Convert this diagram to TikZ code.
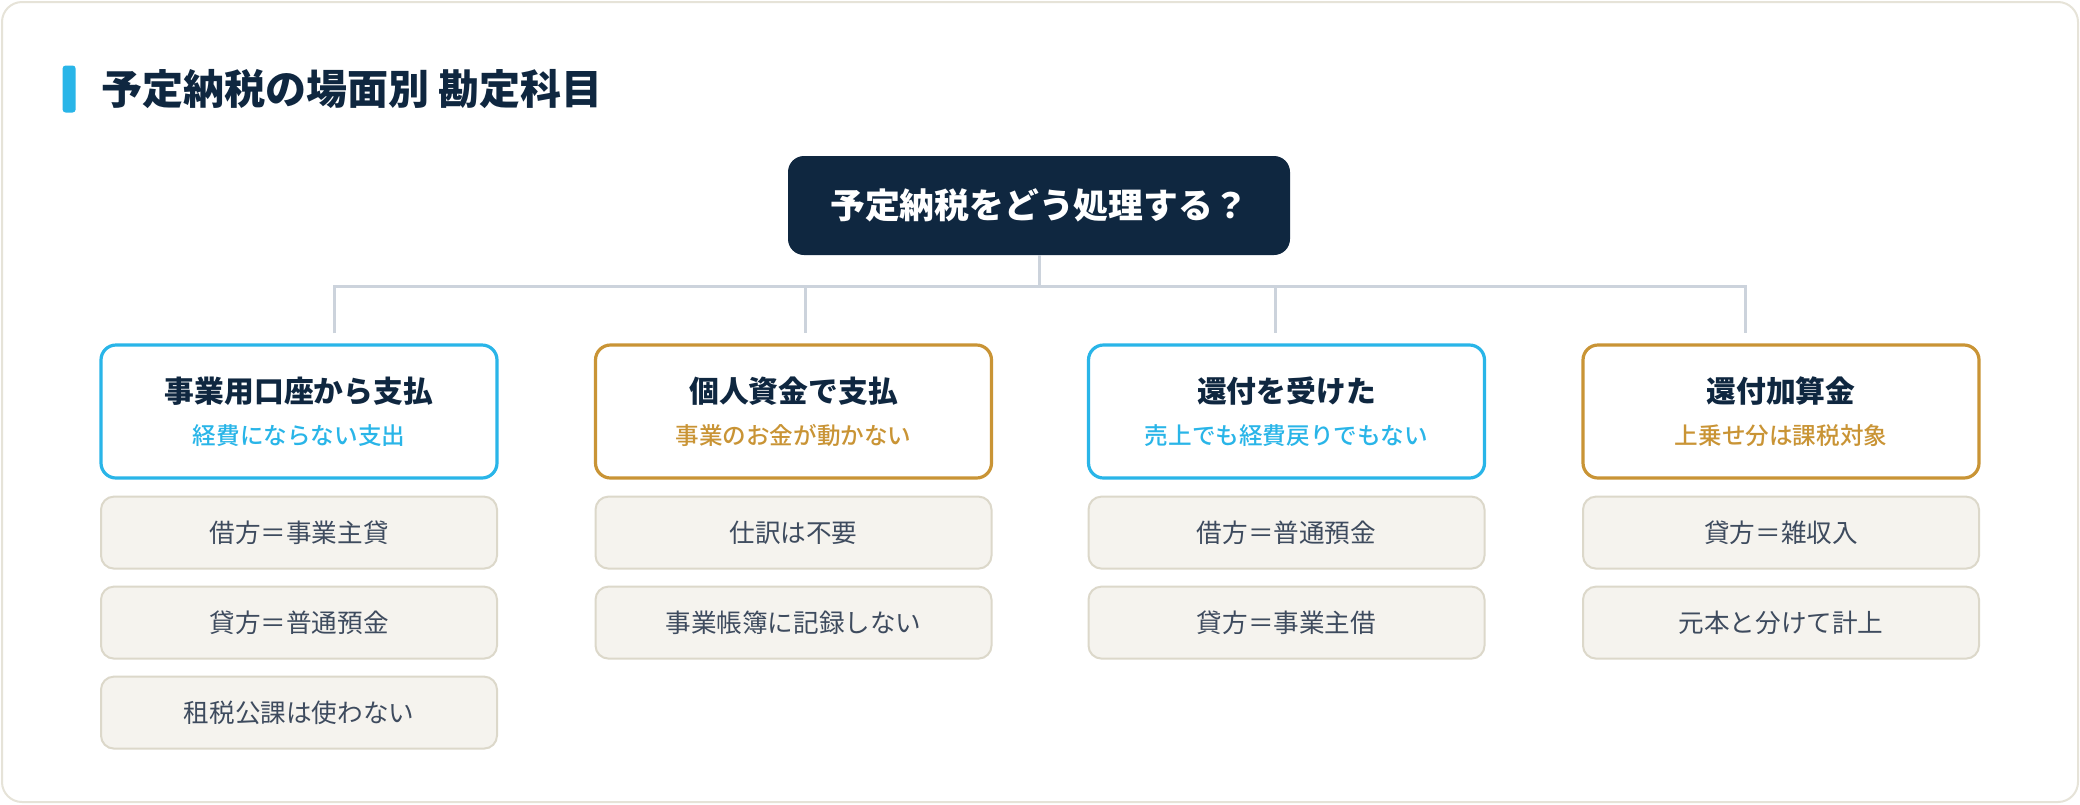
\documentclass[tikz,border=0pt]{standalone}
\usepackage{fontspec}
\setmainfont{Noto Sans CJK JP}
\newfontfamily\medfont{Noto Sans CJK JP}[UprightFont={* Medium}]
\newfontfamily\heavyfont{Noto Sans CJK JP}[UprightFont={* Black}]
\usepackage{xcolor}
\usepackage{tikz}
\usetikzlibrary{positioning}
\definecolor{cNavy}{HTML}{0F2740}
\definecolor{cCyan}{HTML}{29B5E8}
\definecolor{cGold}{HTML}{C99435}
\definecolor{cItemF}{HTML}{F5F3EE}
\definecolor{cItemL}{HTML}{DCD8CA}
\definecolor{cItemT}{HTML}{3E4B5E}
\definecolor{cLink}{HTML}{CCD3DC}
\definecolor{cFrame}{HTML}{E6E3D8}
\tikzset{
  rootbox/.style={fill=cNavy,text=white,rounded corners=8pt,inner sep=0pt,
      minimum width=251pt,minimum height=49.5pt,
      font=\fontsize{17.4}{20}\selectfont\bfseries},
  catbox/.style={draw,fill=white,rounded corners=7.5pt,line width=1.6pt,
      minimum width=198pt,minimum height=66.5pt,inner sep=0pt,align=center,
      text=cNavy,font=\fontsize{11.8}{21}\selectfont},
  catcyan/.style={catbox,draw=cCyan},
  catgold/.style={catbox,draw=cGold},
  itembox/.style={draw=cItemL,fill=cItemF,rounded corners=6.5pt,line width=1pt,
      minimum width=198pt,minimum height=36pt,inner sep=0pt,
      text=cItemT,font=\fontsize{12.8}{15}\selectfont},
  link/.style={draw=cLink,line width=1.5pt},
}
\newcommand{\cathead}[3]{{\fontsize{14.9}{21}\selectfont\bfseries #1}\\{\medfont\color{#3}#2}}

\begin{document}
\begin{tikzpicture}[x=0.5pt,y=-0.5pt,node distance=8pt]
  \useasboundingbox (0,0) rectangle (2080,804);
  \draw[cFrame,fill=white,line width=1pt,rounded corners=10pt] (2,2) rectangle (2078,802);

  % heading
  \node[anchor=west,inner sep=0pt,text=cNavy,
    font=\fontsize{20.5}{24}\selectfont\heavyfont] (title) at (101,89)
    {予定納税の場面別 勘定科目};
  \node[fill=cCyan,rounded corners=1.5pt,inner sep=0pt,minimum width=6.5pt,
    minimum height=23.5pt,left=12.5pt of title] (bar) {};

  \node[rootbox] (root) at (1039,205.5) {予定納税をどう処理する？};

  % the four cases
  \node[catcyan] (cat1) at (299,411.5)
    {\cathead{事業用口座から支払}{経費にならない支出}{cCyan}};
  \node[catgold] (cat2) at (793.5,411.5)
    {\cathead{個人資金で支払}{事業のお金が動かない}{cGold}};
  \node[catcyan] (cat3) at (1286.5,411.5)
    {\cathead{還付を受けた}{売上でも経費戻りでもない}{cCyan}};
  \node[catgold] (cat4) at (1781,411.5)
    {\cathead{還付加算金}{上乗せ分は課税対象}{cGold}};

  \node[itembox,below=of cat1] (it1a) {借方＝事業主貸};
  \node[itembox,below=of it1a] (it1b) {貸方＝普通預金};
  \node[itembox,below=of it1b] (it1c) {租税公課は使わない};

  \node[itembox,below=of cat2] (it2a) {仕訳は不要};
  \node[itembox,below=of it2a] (it2b) {事業帳簿に記録しない};

  \node[itembox,below=of cat3] (it3a) {借方＝普通預金};
  \node[itembox,below=of it3a] (it3b) {貸方＝事業主借};

  \node[itembox,below=of cat4] (it4a) {貸方＝雑収入};
  \node[itembox,below=of it4a] (it4b) {元本と分けて計上};

  % tree lines
  \coordinate (b1) at (334,286.5);
  \coordinate (b2) at (805,286.5);
  \coordinate (b3) at (1275,286.5);
  \coordinate (b4) at (1745,286.5);
  \draw[link] (root.south) -- (root.south |- b1);
  \draw[link,shorten <=5pt,shorten >=5pt] (b1 |- cat1.north) -- (b1) -- (b4) -- (b4 |- cat4.north);
  \draw[link,shorten >=5pt] (b2) -- (b2 |- cat2.north);
  \draw[link,shorten >=5pt] (b3) -- (b3 |- cat3.north);
\end{tikzpicture}
\end{document}
